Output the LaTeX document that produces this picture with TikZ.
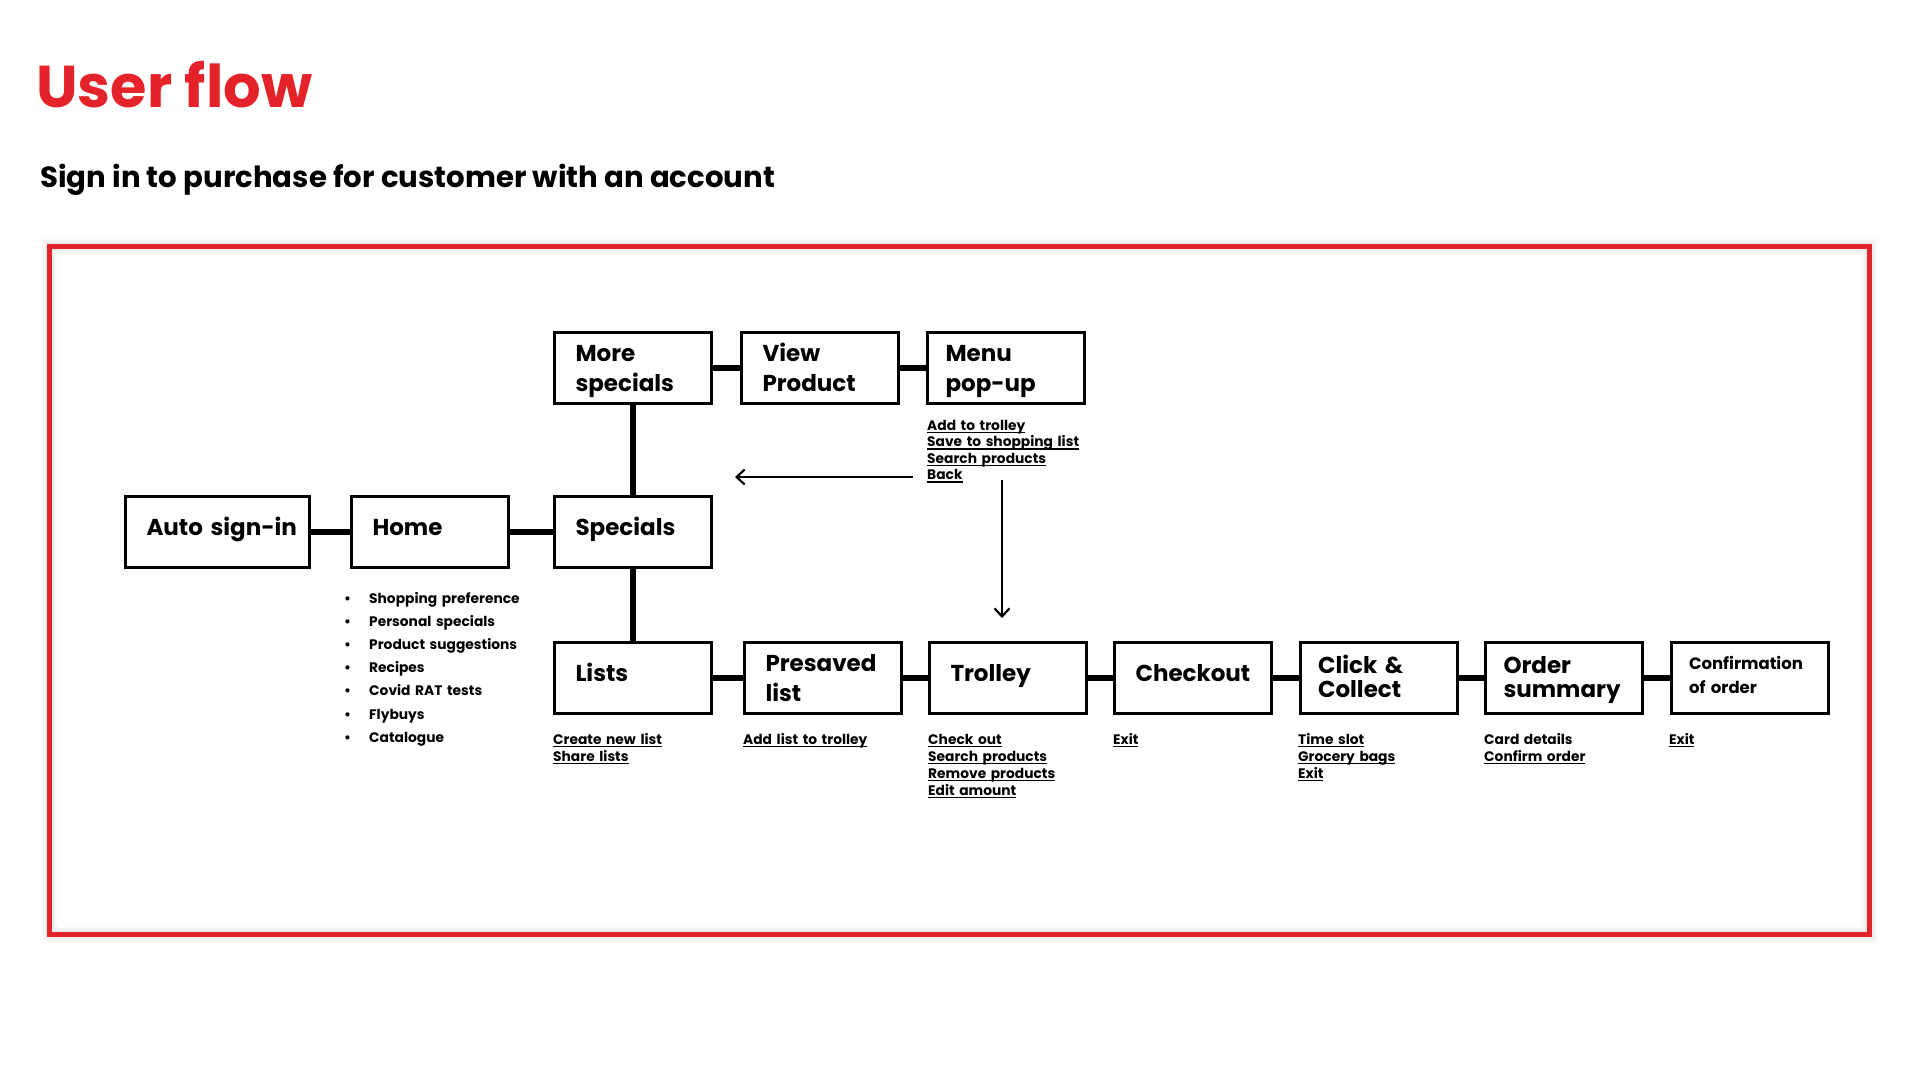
\documentclass[tikz,border=0pt]{standalone}
\usepackage{fontspec}
\setmainfont{Poppins}
\usetikzlibrary{arrows.meta}
\definecolor{brandred}{HTML}{E42229}
\newcommand\ulx[1]{\leavevmode\setbox0=\hbox{#1}\rlap{\rule[-3.2pt]{\wd0}{1.3pt}}\box0}
\begin{document}
\begin{tikzpicture}[x=1pt,y=-1pt,
  flowbox/.style={draw, line width=3pt, minimum width=157pt, minimum height=71pt,
    inner xsep=21pt, text width=115pt, align=left,
    font=\bfseries\fontsize{23}{30}\selectfont,
    execute at begin node={\hyphenpenalty=10000 \exhyphenpenalty=10000 }},
  narrowpad/.style={inner xsep=18pt, text width=121pt},
  oneline/.style={text height=10pt, text depth=4pt},
  twoline/.style={text height=12pt, text depth=25pt},
  twotight/.style={text height=10pt, text depth=19pt, font=\bfseries\fontsize{23}{24}\selectfont},
  conn/.style={line width=5.5pt},
  flowarrow/.style={line width=2.2pt, -{Straight Barb[length=8pt,width=15pt,line width=2.2pt]}},
  opts/.style={anchor=base west, inner sep=0pt, text width=260pt, align=left,
    font=\bfseries\fontsize{13.8}{17}\selectfont},
]
\useasboundingbox (0,0) rectangle (1920,1080);
\fill[white] (0,0) rectangle (1920,1080);

% title
\node[anchor=base west, inner sep=0pt, text=brandred, font=\bfseries\fontsize{59}{66}\selectfont] (title) at (36,107) {User flow};
\node[anchor=base west, inner sep=0pt, font=\bfseries\fontsize{29.2}{34}\selectfont] (subtitle) at (40,187) {Sign in to purchase for customer with an account};

% frame with soft shadow
\foreach \w/\o in {17/0.015, 13/0.025, 9/0.035} {
  \draw[line width=\w pt, black, opacity=\o] (49.5,246.5) rectangle (1869.5,934);
}
\draw[line width=5pt, brandred] (49.5,246.5) rectangle (1869.5,934);

% boxes
\node[flowbox, oneline, minimum width=184pt, text width=142pt] (auto) at (217.5,532) {Auto~sign-in};
\node[flowbox, oneline] (home) at (430,532) {Home};
\node[flowbox, oneline] (specials) at (633,532) {Specials};
\node[flowbox, twoline] (more) at (633,368) {More\\specials};
\node[flowbox, twoline] (view) at (820,368) {View\\Product};
\node[flowbox, twoline, narrowpad] (menu) at (1006,368) {Menu\\pop-up};
\node[flowbox, oneline] (lists) at (633,678) {Lists};
\node[flowbox, twoline] (presaved) at (823,678) {Presaved\\list};
\node[flowbox, oneline] (trolley) at (1008,678) {Trolley};
\node[flowbox, oneline] (checkout) at (1193,678) {Checkout};
\node[flowbox, twotight, narrowpad] (click) at (1378.5,678) {Click~\&\\Collect};
\node[flowbox, twotight, narrowpad] (order) at (1564,678) {Order\\summary};
\node[flowbox, narrowpad, text height=4pt, text depth=22pt,
  font=\bfseries\fontsize{16.5}{24}\selectfont] (confirm) at (1749.5,678) {Confirmation\\of~order};

% connectors
\draw[conn] (auto) -- (home);
\draw[conn] (home) -- (specials);
\draw[conn] (specials) -- (more);
\draw[conn] (specials) -- (lists);
\draw[conn] (more) -- (view);
\draw[conn] (view) -- (menu);
\draw[conn] (lists) -- (presaved);
\draw[conn] (presaved) -- (trolley);
\draw[conn] (trolley) -- (checkout);
\draw[conn] (checkout) -- (click);
\draw[conn] (click) -- (order);
\draw[conn] (order) -- (confirm);

% home bullet list
\node[anchor=base west, inner sep=0pt, text width=220pt, align=left,
  font=\bfseries\fontsize{13.8}{23.2}\selectfont] (homelist) at (344,603) {%
  \makebox[25pt][l]{•}Shopping preference\\
  \makebox[25pt][l]{•}Personal specials\\
  \makebox[25pt][l]{•}Product suggestions\\
  \makebox[25pt][l]{•}Recipes\\
  \makebox[25pt][l]{•}Covid RAT tests\\
  \makebox[25pt][l]{•}Flybuys\\
  \makebox[25pt][l]{•}Catalogue};

% option lists
\node[opts, font=\bfseries\fontsize{13.8}{16.5}\selectfont] (menuopts) at (927,430) {%
  \ulx{Add to trolley}\\\ulx{Save to shopping list}\\\ulx{Search products}\\\ulx{Back}};
\node[opts] (listsopts) at (553,744) {\ulx{Create new list}\\\ulx{Share lists}};
\node[opts] (presavedopts) at (743,744) {\ulx{Add list to trolley}};
\node[opts] (trolleyopts) at (928,744) {%
  \ulx{Check out}\\\ulx{Search products}\\\ulx{Remove products}\\\ulx{Edit amount}};
\node[opts] (checkoutopts) at (1113,744) {\ulx{Exit}};
\node[opts] (clickopts) at (1298,744) {\ulx{Time slot}\\\ulx{Grocery bags}\\\ulx{Exit}};
\node[opts] (orderopts) at (1484,744) {Card details\\\ulx{Confirm order}};
\node[opts] (confirmopts) at (1669,744) {\ulx{Exit}};

% arrows from the menu options
\coordinate (backtail) at (913,477);
\coordinate (backhead) at (735,477);
\coordinate (downtail) at (1002,480);
\coordinate (downhead) at (1002,618);
\draw[flowarrow] (backtail) -- (backhead);
\draw[flowarrow] (downtail) -- (downhead);
\end{tikzpicture}
\end{document}
